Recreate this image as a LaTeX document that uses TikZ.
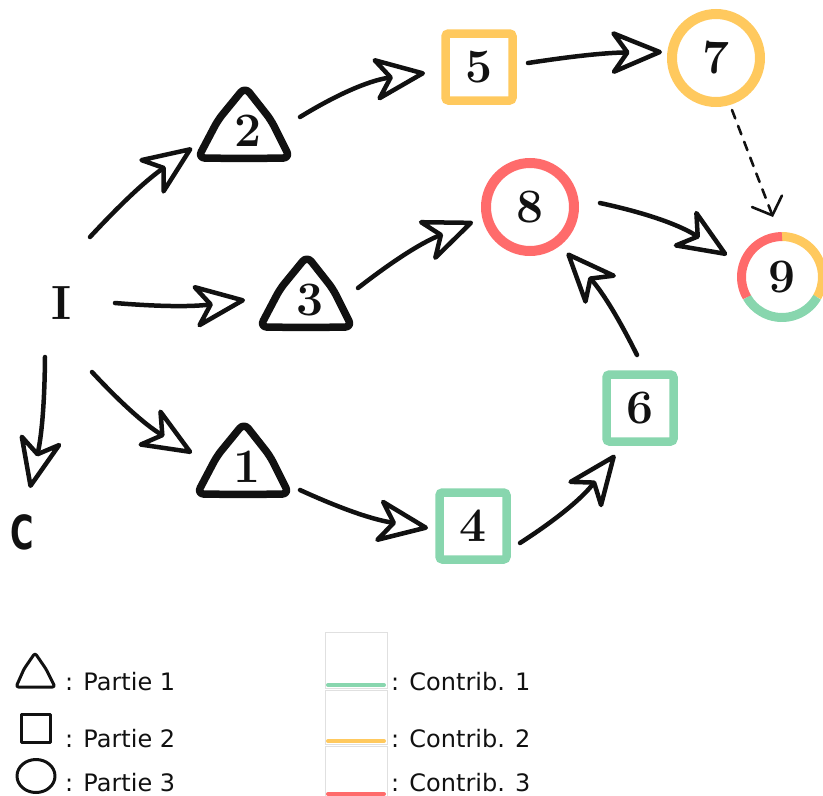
\documentclass[tikz,border=0pt]{standalone}
\usepackage{fontspec}
\usetikzlibrary{arrows.meta}
\newfontfamily\legendfont{DejaVu Sans}
\definecolor{cgreen}{HTML}{88D6AE}
\definecolor{cyellow}{HTML}{FFC95E}
\definecolor{cred}{HTML}{FF6B6B}
\definecolor{ink}{HTML}{111111}

\tikzset{
  num/.style={font=\fontsize{48}{48}\selectfont\bfseries, inner sep=0pt, text=ink},
  sqbox/.style={num, draw, line width=8.5pt, rounded corners=3pt, minimum size=67pt},
  ringbox/.style={num, circle, draw, line width=10pt, minimum size=88pt},
  tribox/.style={num, circle, minimum size=80pt},
  flow/.style={ink, line width=4.5pt, line cap=round, line join=round,
    -{Stealth[open, length=58pt, width=48pt, inset=17pt, round]}},
  dashflow/.style={ink, line width=2.6pt, line cap=round, dash pattern=on 9pt off 8pt,
    -{Straight Barb[length=15pt, width=32pt, line cap=round]}},
  legtext/.style={font=\legendfont\fontsize{24}{24}\selectfont, anchor=base west, inner sep=0pt, text=ink},
  legshape/.style={ink, line width=3pt, line join=round},
}

% outline of a rounded, slightly bulging triangle around a named node
\newcommand\tribody[1]{%
  \draw[ink, line width=7.5pt, line join=round, rounded corners=7pt]
    ([shift={(-4,27.5)}]#1.center) -- ([shift={(42,27)}]#1.center)
    -- ([shift={(23,-11)}]#1.center) -- ([shift={(-3,-44)}]#1.center)
    -- ([shift={(-30,-11)}]#1.center) -- ([shift={(-50,27)}]#1.center) -- cycle;}

\begin{document}
\begin{tikzpicture}[x=1pt, y=-1pt]
\useasboundingbox (0,0) rectangle (823,796);

% start and end labels
\node[num] (I) at (62,303) {I};
\node[num, font=\legendfont\bfseries\fontsize{47}{47}\selectfont] (C) at (22,532) {\scalebox{0.68}[1]{C}};

% part 1: triangles
\node[tribox] (T2) at (248,131) {2};
\node[tribox] (T3) at (310,300) {3};
\node[tribox] (T1) at (247,467) {1};
\tribody{T2}
\tribody{T3}
\tribody{T1}

% part 2: squares
\node[sqbox, draw=cyellow] (S5) at (479,67) {5};
\node[sqbox, draw=cgreen] (S6) at (640,408) {6};
\node[sqbox, draw=cgreen] (S4) at (473,526) {4};

% part 3: circles
\node[ringbox, draw=cyellow] (C7) at (716,58) {7};
\node[ringbox, draw=cred] (C8) at (530,207) {8};
\node[num, circle, minimum size=81pt, outer sep=0pt] (C9) at (782,277) {9};
\draw[cyellow, line width=9pt] (C9.90) arc[start angle=90, end angle=-30, radius=40.5pt];
\draw[cgreen, line width=9pt] (C9.-30) arc[start angle=-30, end angle=-150, radius=40.5pt];
\draw[cred, line width=9pt] (C9.-150) arc[start angle=-150, end angle=-270, radius=40.5pt];

% connectors
\draw[flow] ([shift={(28,-66)}]I.center) to[bend left=6] ([shift={(-56,17)}]T2.center);
\draw[flow] ([shift={(52,-14)}]T2.center) to[bend left=12] ([shift={(-54,6)}]S5.center);
\draw[flow] ([shift={(49,-4)}]S5.center) to[bend left=4] ([shift={(-54,-6)}]C7.center);
\draw[dashflow] ([shift={(16,52)}]C7.center) -- ([shift={(-9,-60)}]C9.center);
\draw[flow] ([shift={(53,0)}]I.center) to[bend right=6] ([shift={(-65,0)}]T3.center);
\draw[flow] ([shift={(48,-12)}]T3.center) to[bend left=8] ([shift={(-57,15)}]C8.center);
\draw[flow] ([shift={(70,-4)}]C8.center) to[bend left=10] ([shift={(-55,-22)}]C9.center);
\draw[flow] ([shift={(-17,54)}]I.center) to[bend left=6] ([shift={(8,-44)}]C.center);
\draw[flow] ([shift={(30,69)}]I.center) to[bend right=8] ([shift={(-55,-14)}]T1.center);
\draw[flow] ([shift={(53,23)}]T1.center) to[bend right=8] ([shift={(-45,2)}]S4.center);
\draw[flow] ([shift={(47,17)}]S4.center) to[bend right=10] ([shift={(-25,47)}]S6.center);
\draw[flow] ([shift={(-3,-53)}]S6.center) to[bend right=8] ([shift={(37,46)}]C8.center);

% legend: shapes
\draw[legshape, rounded corners=2.5pt] (35,687) -- (55,687) -- (46,669) -- (35,653) -- (24,669) -- (16,687) -- cycle;
\draw[legshape] (21,714) rectangle (50,742);
\draw[legshape] (36,776) ellipse[x radius=19pt, y radius=16.5pt];
\node[legtext] (lp1) at (65,690) {: Partie 1};
\node[legtext] (lp2) at (65,747) {: Partie 2};
\node[legtext] (lp3) at (65,791) {: Partie 3};

% legend: contributions
\draw[black!12, line width=0.8pt] (325,632) rectangle (387,688);
\draw[black!12, line width=0.8pt] (325,690) rectangle (387,744);
\draw[black!12, line width=0.8pt] (325,746) rectangle (387,808);
\draw[cgreen, line width=4pt, line cap=round] (328,685) -- (384,685);
\draw[cyellow, line width=4pt, line cap=round] (328,741) -- (384,741);
\draw[cred, line width=4pt, line cap=round] (328,794) -- (384,794);
\node[legtext] (lc1) at (391,690) {: Contrib. 1};
\node[legtext] (lc2) at (391,747) {: Contrib. 2};
\node[legtext] (lc3) at (391,791) {: Contrib. 3};
\end{tikzpicture}
\end{document}
